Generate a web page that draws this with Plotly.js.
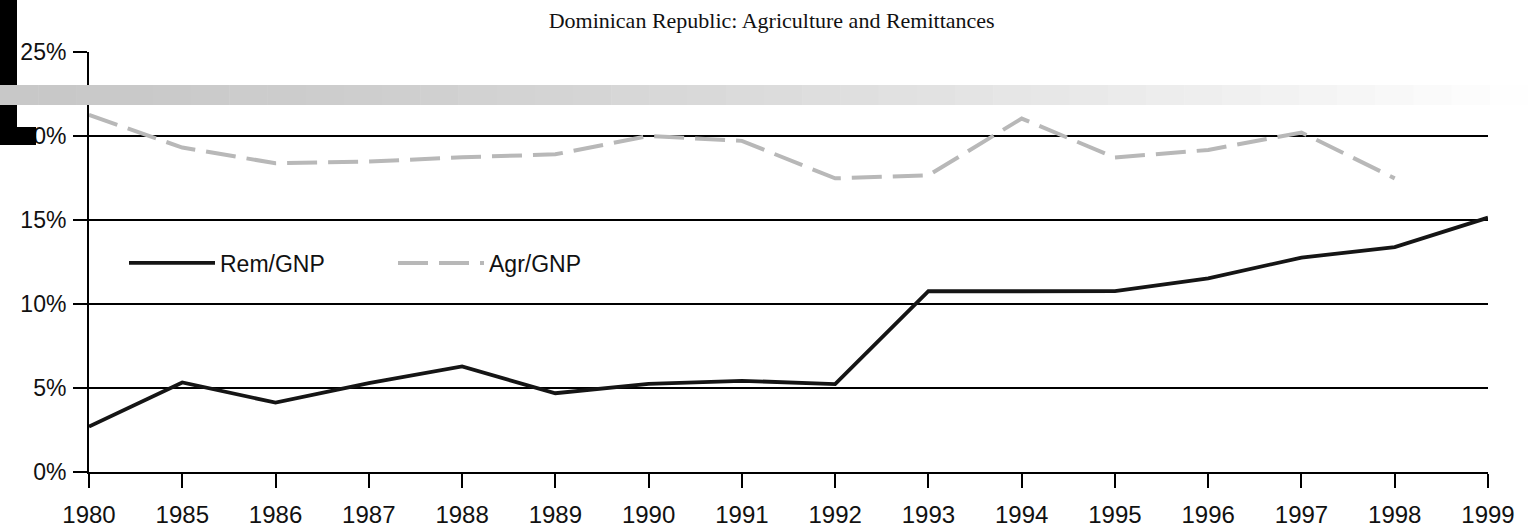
<!DOCTYPE html>
<html>
<head>
<meta charset="utf-8">
<script src="https://cdn.plot.ly/plotly-3.0.1.min.js"></script>
<style>
  html, body { margin: 0; padding: 0; background: #ffffff; }
  #chart { width: 1528px; height: 528px; }
</style>
</head>
<body>
<div id="chart"></div>
<script>
// ---- data ----
const years = ["1980", "1985", "1986", "1987", "1988", "1989", "1990", "1991",
               "1992", "1993", "1994", "1995", "1996", "1997", "1998", "1999"];
const remGNP = [2.7, 5.33, 4.13, 5.29, 6.28, 4.69, 5.25, 5.43,
                5.23, 10.76, 10.76, 10.77, 11.53, 12.76, 13.39, 15.14];
const agrGNP = [21.26, 19.31, 18.38, 18.48, 18.73, 18.91, 20.0, 19.71,
                17.48, 17.66, 21.04, 18.72, 19.17, 20.21, 17.48, null];
const yTickVals = [0, 5, 10, 15, 20, 25];
const yTickText = ["0%", "5%", "10%", "15%", "20%", "25%"];
const seriesNames = ["Rem/GNP", "Agr/GNP"];
const titleText = "Dominican Republic: Agriculture and Remittances";

// ---- decorative shapes (paper coordinates) ----
const W = 1528, H = 528;
const plotL = 89, plotR = 1488, plotT = 52, plotB = 472;
function px(x) { return (x - plotL) / (plotR - plotL); }
function py(y) { return (plotB - y) / (plotB - plotT); }

const shapes = [];
// black "L" bracket at the left
shapes.push({
  type: "rect", xref: "paper", yref: "paper", layer: "above",
  x0: px(0), x1: px(17), y0: py(145), y1: py(0) + 0.01,
  fillcolor: "#000000", line: { width: 0 }
});
shapes.push({
  type: "rect", xref: "paper", yref: "paper", layer: "above",
  x0: px(0), x1: px(36), y0: py(145), y1: py(127),
  fillcolor: "#000000", line: { width: 0 }
});
// gray fading band across the top
const steps = 40;
for (let i = 0; i < steps; i++) {
  const x0 = W * i / steps, x1 = W * (i + 1) / steps;
  const t = (i + 0.5) / steps;
  const g = Math.round(200 + 55 * Math.pow(t, 1.5));
  shapes.push({
    type: "rect", xref: "paper", yref: "paper", layer: "above",
    x0: px(x0), x1: px(x1 + 0.5), y0: py(105), y1: py(85),
    fillcolor: `rgb(${g},${g},${g})`, line: { width: 0 }
  });
}

const traces = [
  {
    x: years, y: remGNP, name: seriesNames[0], type: "scatter", mode: "lines",
    line: { color: "#151515", width: 3.8 }, connectgaps: false
  },
  {
    x: years, y: agrGNP, name: seriesNames[1], type: "scatter", mode: "lines",
    line: { color: "#b8b8b8", width: 4, dash: "30px,11px" }, connectgaps: false
  }
];

const layout = {
  width: W, height: H,
  paper_bgcolor: "#ffffff", plot_bgcolor: "#ffffff",
  margin: { l: plotL, r: W - plotR, t: plotT, b: H - plotB, pad: 0 },
  font: { family: "Liberation Sans, Arial, sans-serif", size: 22, color: "#111111" },
  title: {
    text: titleText,
    font: { family: "Liberation Serif, Times New Roman, serif", size: 22, color: "#111111" },
    x: 0.505, xref: "container", xanchor: "center",
    y: 1 - 20 / H, yref: "container", yanchor: "middle"
  },
  showlegend: true,
  legend: {
    orientation: "h",
    x: px(124), xanchor: "left",
    y: py(263), yanchor: "middle",
    bgcolor: "rgba(0,0,0,0)",
    font: { family: "Liberation Sans, Arial, sans-serif", size: 23, color: "#111111" },
    itemwidth: 86,
    entrywidth: 168, entrywidthmode: "pixels",
    traceorder: "normal"
  },
  xaxis: {
    type: "category",
    range: [0, years.length - 1],
    showgrid: false, zeroline: false,
    showline: true, linecolor: "#000000", linewidth: 2,
    ticks: "outside", ticklen: 14, tickwidth: 2, tickcolor: "#000000",
    ticklabelstandoff: 6,
    tickfont: { family: "Liberation Sans, Arial, sans-serif", size: 24, color: "#111111" },
    fixedrange: true
  },
  yaxis: {
    range: [0, 25],
    tickvals: yTickVals, ticktext: yTickText,
    showgrid: true, gridcolor: "#000000", gridwidth: 2,
    zeroline: false,
    showline: true, linecolor: "#000000", linewidth: 2,
    ticks: "outside", ticklen: 14, tickwidth: 2, tickcolor: "#000000",
    ticklabelstandoff: 2,
    tickfont: { family: "Liberation Sans, Arial, sans-serif", size: 23, color: "#111111" },
    fixedrange: true
  },
  shapes: shapes
};

Plotly.newPlot("chart", traces, layout, { displayModeBar: false, staticPlot: true });
</script>
</body>
</html>
